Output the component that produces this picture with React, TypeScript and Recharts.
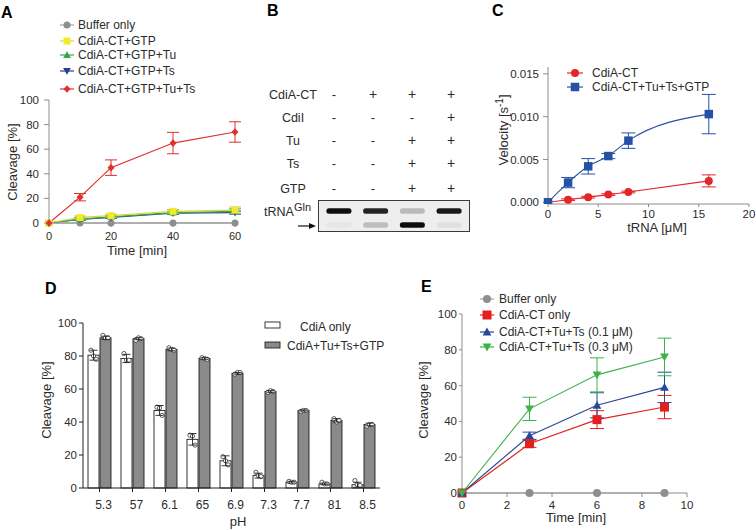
import React from 'react';
import { LineChart, Line, XAxis, YAxis, ErrorBar, BarChart, Bar, ScatterChart, Scatter } from 'recharts';

const FONT = '"Liberation Sans", Arial, Helvetica, sans-serif';
const INK = '#2b2b2b';
const AXG = '#8c8c8c';

// ---------- Panel A data ----------
const timeA = [0, 10, 20, 40, 60];
const bufferOnlyA = [0, 0, 0, 0, 0];
const ctGtpA = [0, 4.5, 6, 9.5, 10.5];
const ctGtpErrA = [0, 1.2, 1.2, 1.5, 2.5];
const ctGtpTuA = [0, 3.2, 5, 8.5, 9.5];
const ctGtpTuErrA = [0, 1, 1, 1.2, 2];
const ctGtpTsA = [0, 3, 4.5, 8, 8.5];
const ctGtpTsErrA = [0, 0.8, 0.8, 1, 1.2];
const ctGtpTuTsA = [0, 21, 45, 65, 74];
const ctGtpTuTsErrA = [0, 3, 6.3, 8.7, 8.3];
const ticksAx = [0, 20, 40, 60];
const ticksAy = [0, 20, 40, 60, 80, 100];

// ---------- Panel B data ----------
const gelRowLabels = ['CdiA-CT', 'CdiI', 'Tu', 'Ts', 'GTP'];
const gelSigns = [
  ['-', '+', '+', '+'],
  ['-', '-', '-', '+'],
  ['-', '-', '+', '+'],
  ['-', '-', '+', '+'],
  ['-', '-', '+', '+'],
];
const gelLanes = [1, 2, 3, 4];
const fullLengthBand = [1.0, 0.9, 0.22, 0.95];
const cleavedBand = [0.03, 0.2, 1.0, 0.06];

// ---------- Panel C data ----------
const tRNAConc = [0, 2, 4, 6, 8, 16];
const velCT = [0, 0.0003, 0.0006, 0.0009, 0.0012, 0.0025];
const velCTErr = [0, 0.0001, 0.0001, 0.0001, 0.0001, 0.0007];
const velTuTs = [0, 0.0023, 0.0042, 0.0054, 0.0072, 0.0103];
const velTuTsErr = [0, 0.0006, 0.0009, 0.0003, 0.0009, 0.0023];
const ticksCx = [0, 5, 10, 15, 20];
const ticksCy = [0, 0.005, 0.01, 0.015];

// ---------- Panel D data ----------
const pHLabels = ['5.3', '57', '6.1', '65', '6.9', '7.3', '7.7', '81', '8.5'];
const cdiaOnly = [80.5, 78.5, 47, 29.5, 16.5, 7.5, 3.5, 2.5, 2];
const cdiaOnlyErr = [3, 2.5, 3, 3.5, 3, 1.5, 0.5, 0.5, 1.5];
const cdiaOnlyReps = [[83.5, 80, 78], [81.5, 77.5, 77.5], [49, 48.5, 44], [32, 31.5, 26], [19, 16.5, 14], [9.5, 7.5, 7], [4, 3.5, 3.5], [3.5, 2.5, 2.5], [4.5, 2, 1.5]];
const cdiaTuTs = [91, 90.5, 84, 78.5, 69.5, 58.5, 47, 41, 38.5];
const cdiaTuTsErr = [1, 0.6, 0.8, 0.5, 0.5, 0.5, 0.3, 1, 0.8];
const cdiaTuTsReps = [[92.5, 91, 91], [89.5, 91, 90.5], [85, 84, 83.5], [79, 78.5, 78], [69, 70, 70], [58, 59, 58.5], [46.5, 47, 47], [42, 40, 41], [37.5, 38.5, 38.5]];
const ticksDy = [0, 20, 40, 60, 80, 100];

// ---------- Panel E data ----------
const timeE = [0, 3, 6, 9];
const bufferOnlyE = [0, 0, 0, 0];
const ctOnlyE = [0, 27.5, 41, 48];
const ctOnlyErrE = [0, 2, 5, 6.5];
const tuTs01E = [0, 32, 49, 59];
const tuTs01ErrE = [0, 2, 7, 8.5];
const tuTs03E = [0, 47, 66, 76];
const tuTs03ErrE = [0, 6.5, 9.5, 10.5];
const ticksEx = [0, 2, 4, 6, 8, 10];
const ticksEy = [0, 20, 40, 60, 80, 100];

// ---------- build tables ----------
const rowsA = timeA.map((t, i) => ({
  t,
  buffer: bufferOnlyA[i],
  gtp: ctGtpA[i], gtpErr: ctGtpErrA[i],
  tu: ctGtpTuA[i], tuErr: ctGtpTuErrA[i],
  ts: ctGtpTsA[i], tsErr: ctGtpTsErrA[i],
  tuts: ctGtpTuTsA[i], tutsErr: ctGtpTuTsErrA[i],
}));
const rowsC = tRNAConc.map((c, i) => ({
  c, ct: velCT[i], ctErr: velCTErr[i], full: velTuTs[i], fullErr: velTuTsErr[i],
}));
const rowsD = pHLabels.map((p, i) => ({
  p, a: cdiaOnly[i], aErr: cdiaOnlyErr[i], aReps: cdiaOnlyReps[i],
  b: cdiaTuTs[i], bErr: cdiaTuTsErr[i], bReps: cdiaTuTsReps[i],
}));
const rowsE = timeE.map((t, i) => ({
  t, buffer: bufferOnlyE[i], ct: ctOnlyE[i], ctErr: ctOnlyErrE[i],
  lo: tuTs01E[i], loErr: tuTs01ErrE[i], hi: tuTs03E[i], hiErr: tuTs03ErrE[i],
}));
const gelBands = [
  ...gelLanes.map((lane, i) => ({ lane, band: 2, intensity: fullLengthBand[i] })),
  ...gelLanes.map((lane, i) => ({ lane, band: 1, intensity: cleavedBand[i] })),
];

// ---------- styles ----------
const seriesA = [
  { key: 'buffer', name: 'Buffer only', color: '#8e8e8e', line: '#a3a3a3', shape: 'circle', size: 7 },
  { key: 'ts', name: 'CdiA-CT+GTP+Ts', color: '#27408f', line: '#27408f', shape: 'tridown', size: 7 },
  { key: 'tu', name: 'CdiA-CT+GTP+Tu', color: '#35a846', line: '#35a846', shape: 'tri', size: 7 },
  { key: 'gtp', name: 'CdiA-CT+GTP', color: '#f2ea2a', line: '#d4d83c', shape: 'square', size: 7 },
  { key: 'tuts', name: 'CdiA-CT+GTP+Tu+Ts', color: '#e0302c', line: '#e0302c', shape: 'diamond', size: 7 },
];
const legendOrderA = ['buffer', 'gtp', 'tu', 'ts', 'tuts'];
const legendYA = [25, 41, 55, 71, 89];

const seriesC = [
  { key: 'ct', name: 'CdiA-CT', color: '#e3262a', shape: 'circle', size: 8 },
  { key: 'full', name: 'CdiA-CT+Tu+Ts+GTP', color: '#2652a6', shape: 'square', size: 8.5 },
];
const seriesE = [
  { key: 'buffer', name: 'Buffer only', color: '#8e8e8e', line: '#a3a3a3', shape: 'circle', size: 8 },
  { key: 'ct', name: 'CdiA-CT only', color: '#e3201f', line: '#e3201f', shape: 'square', size: 9 },
  { key: 'lo', name: 'CdiA-CT+Tu+Ts (0.1 \u03bcM)', color: '#27479a', line: '#27479a', shape: 'tri', size: 8 },
  { key: 'hi', name: 'CdiA-CT+Tu+Ts (0.3 \u03bcM)', color: '#3db24a', line: '#3db24a', shape: 'tridown', size: 8 },
];
const legendYE = [299, 315, 332, 347];

function Marker({ shape, cx, cy, size, fill }: any) {
  const h = size / 2;
  if (cx == null || cy == null || isNaN(cx) || isNaN(cy)) return <g />;
  switch (shape) {
    case 'circle':
      return <circle cx={cx} cy={cy} r={h} fill={fill} />;
    case 'square':
      return <rect x={cx - h} y={cy - h} width={size} height={size} fill={fill} />;
    case 'tri':
      return <polygon points={`${cx},${cy - h * 1.1} ${cx + h * 1.1},${cy + h * 0.85} ${cx - h * 1.1},${cy + h * 0.85}`} fill={fill} />;
    case 'tridown':
      return <polygon points={`${cx},${cy + h * 1.1} ${cx + h * 1.1},${cy - h * 0.85} ${cx - h * 1.1},${cy - h * 0.85}`} fill={fill} />;
    case 'diamond':
      return <polygon points={`${cx},${cy - h * 1.1} ${cx + h},${cy} ${cx},${cy + h * 1.1} ${cx - h},${cy}`} fill={fill} />;
    default:
      return <circle cx={cx} cy={cy} r={h} fill={fill} />;
  }
}

const tickFont = { fontSize: 11.5, fill: INK, fontFamily: FONT };

function PanelA() {
  return (
    <div style={{ position: 'absolute', left: 0, top: 0 }}>
      <LineChart width={250} height={250} data={rowsA} margin={{ top: 100, right: 15, bottom: 7, left: 0 }}>
        <XAxis type="number" dataKey="t" domain={[0, 60]} ticks={ticksAx} interval={0} height={20}
          axisLine={{ stroke: AXG }} tickLine={{ stroke: AXG }} tickSize={4} tickMargin={5} tick={{ ...tickFont, fontSize: 11 }} />
        <YAxis type="number" domain={[0, 100]} ticks={ticksAy} interval={0} width={49}
          axisLine={{ stroke: AXG }} tickLine={{ stroke: AXG }} tickSize={5} tickMargin={5} tick={tickFont} />
        {seriesA.map((s) => (
          <Line key={s.key} dataKey={s.key} stroke={s.line} strokeWidth={1.2} isAnimationActive={false}
            dot={(p: any) => <Marker key={`${s.key}-${p.index}`} shape={s.shape} cx={p.cx} cy={p.cy} size={s.size} fill={s.color} />}
            activeDot={false}>
            {s.key !== 'buffer' && <ErrorBar dataKey={`${s.key}Err`} width={6} stroke={s.color === '#f2ea2a' ? '#c9c930' : s.color} strokeWidth={1} direction="y" />}
          </Line>
        ))}
      </LineChart>
    </div>
  );
}

function PanelB() {
  return (
    <>
      <div style={{ position: 'absolute', left: 318, top: 200, width: 150, height: 30, border: '1px solid #3a3a3a', background: '#eeeeee' }} />
      <div style={{ position: 'absolute', left: 318, top: 200 }}>
        <ScatterChart width={152} height={32} margin={{ top: 0, right: 0, bottom: 0, left: 0 }}>
          <XAxis type="number" dataKey="lane" domain={[0.43, 4.57]} hide />
          <YAxis type="number" dataKey="band" domain={[0.5, 2.786]} hide />
          <Scatter data={gelBands} isAnimationActive={false}
            shape={(p: any) => (
              <rect x={p.cx - 12.5} y={p.cy - 2.8} width={25} height={5.6} rx={2.5}
                fill="#0d0d0d" fillOpacity={p.payload.intensity} filter="url(#gelBlur)" />
            )} />
        </ScatterChart>
      </div>
    </>
  );
}

function PanelC() {
  return (
    <div style={{ position: 'absolute', left: 480, top: 0 }}>
      <LineChart width={276} height={240} data={rowsC} margin={{ top: 67, right: 7, bottom: 16, left: 0 }}>
        <XAxis type="number" dataKey="c" domain={[0, 20]} ticks={ticksCx} interval={0} height={20}
          axisLine={{ stroke: AXG }} tickLine={{ stroke: AXG }} tickSize={3} tickMargin={3} tick={tickFont} />
        <YAxis type="number" domain={[-0.0002, 0.0158]} allowDataOverflow ticks={ticksCy} interval={0} width={68}
          tickFormatter={(v: number) => v.toFixed(3)}
          axisLine={{ stroke: AXG }} tickLine={{ stroke: AXG }} tickSize={5} tickMargin={4} tick={tickFont} />
        {seriesC.map((s) => (
          <Line key={s.key} type="monotone" dataKey={s.key} stroke={s.color} strokeWidth={1.1} isAnimationActive={false}
            dot={(p: any) => <Marker key={`${s.key}-${p.index}`} shape={s.shape} cx={p.cx} cy={p.cy} size={s.size} fill={s.color} />}
            activeDot={false}>
            <ErrorBar dataKey={`${s.key}Err`} width={7} stroke={s.color} strokeWidth={1} direction="y" />
          </Line>
        ))}
      </LineChart>
    </div>
  );
}

function makeBarShape(fill: string, repsKey: string) {
  return (p: any) => {
    const { x, y, width, height, value, payload } = p;
    const v = Array.isArray(value) ? value[1] - value[0] : value;
    const base = y + height;
    const ppu = v ? height / v : 0;
    const reps: number[] = payload[repsKey] || [];
    const offs = [-2.6, 0, 2.6];
    return (
      <g>
        <rect x={x} y={y} width={width} height={height} fill={fill} stroke="#1e1e1e" strokeWidth={0.9} />
        {reps.map((r, i) => (
          <circle key={i} cx={x + width / 2 + offs[i]} cy={base - r * ppu} r={2.1} fill="#fff" stroke="#333" strokeWidth={0.8} />
        ))}
      </g>
    );
  };
}

function PanelD() {
  return (
    <div style={{ position: 'absolute', left: 0, top: 270 }}>
      <BarChart width={400} height={260} data={rowsD} margin={{ top: 53, right: 20, bottom: 12, left: 0 }}
        barCategoryGap={5} barGap={1}>
        <XAxis dataKey="p" interval={0} height={30} axisLine={{ stroke: '#222' }} tickLine={{ stroke: '#222' }}
          tickSize={4} tickMargin={8} tick={{ ...tickFont, fontSize: 12, dx: 4 } as any} />
        <YAxis type="number" domain={[0, 100]} ticks={ticksDy} interval={0} width={83}
          axisLine={{ stroke: '#222' }} tickLine={{ stroke: '#222' }} tickSize={4} tickMargin={2} tick={tickFont} />
        <Bar dataKey="a" isAnimationActive={false} fill="#ffffff" shape={makeBarShape('#ffffff', 'aReps')}>
          <ErrorBar dataKey="aErr" width={4} stroke="#222" strokeWidth={0.9} direction="y" />
        </Bar>
        <Bar dataKey="b" isAnimationActive={false} fill="#8a8a8a" shape={makeBarShape('#8a8a8a', 'bReps')}>
          <ErrorBar dataKey="bErr" width={4} stroke="#222" strokeWidth={0.9} direction="y" />
        </Bar>
      </BarChart>
    </div>
  );
}

function PanelE() {
  return (
    <div style={{ position: 'absolute', left: 420, top: 270 }}>
      <LineChart width={336} height={260} data={rowsE} margin={{ top: 44, right: 69, bottom: 12, left: 0 }}>
        <XAxis type="number" dataKey="t" domain={[0, 10]} ticks={ticksEx} interval={0} height={25}
          axisLine={{ stroke: AXG }} tickLine={{ stroke: AXG }} tickSize={4} tickMargin={4} tick={tickFont} />
        <YAxis type="number" domain={[0, 100]} ticks={ticksEy} interval={0} width={42}
          axisLine={{ stroke: AXG }} tickLine={{ stroke: AXG }} tickSize={3} tickMargin={2} tick={tickFont} />
        {seriesE.map((s) => (
          <Line key={s.key} dataKey={s.key} stroke={s.line} strokeWidth={1.1} isAnimationActive={false}
            dot={(p: any) => <Marker key={`${s.key}-${p.index}`} shape={s.shape} cx={p.cx} cy={p.cy} size={s.size} fill={s.color} />}
            activeDot={false}>
            {s.key !== 'buffer' && <ErrorBar dataKey={`${s.key}Err`} width={7} stroke={s.color} strokeWidth={1} direction="y" />}
          </Line>
        ))}
      </LineChart>
    </div>
  );
}

function LegendRow({ x, y, s, lineLen = 7, textX }: any) {
  return (
    <g>
      <line x1={x - lineLen} x2={x + lineLen} y1={y} y2={y} stroke={s.line || s.color} strokeWidth={1.2} />
      <Marker shape={s.shape} cx={x} cy={y} size={s.size} fill={s.color} />
      <text x={textX} y={y} dy="0.36em" fontSize={12} fill={INK}>{s.name}</text>
    </g>
  );
}

function Overlay() {
  const laneX = [334, 373, 412, 451];
  const rowY = [94, 117, 140, 163, 188];
  return (
    <svg width={756} height={530} style={{ position: 'absolute', left: 0, top: 0, pointerEvents: 'none' }} fontFamily={FONT}>
      {/* panel letters */}
      <text x={1} y={18} fontSize={16} fontWeight="bold" fill="#000">A</text>
      <text x={267} y={16} fontSize={16} fontWeight="bold" fill="#000">B</text>
      <text x={492} y={16} fontSize={16} fontWeight="bold" fill="#000">C</text>
      <text x={45} y={294} fontSize={16} fontWeight="bold" fill="#000">D</text>
      <text x={421} y={292} fontSize={16} fontWeight="bold" fill="#000">E</text>

      {/* Panel A legend + titles */}
      {legendOrderA.map((k, i) => {
        const s = seriesA.find((q) => q.key === k);
        return <LegendRow key={k} x={67} y={legendYA[i]} s={s} textX={78} />;
      })}
      <text x={137} y={255} fontSize={13} fill={INK} textAnchor="middle">Time [min]</text>
      <text transform="translate(17,162) rotate(-90)" fontSize={13} fill={INK} textAnchor="middle">Cleavage [%]</text>

      {/* Panel B table */}
      {gelRowLabels.map((lab, r) => (
        <g key={lab}>
          <text x={293} y={rowY[r]} dy="0.36em" fontSize={12.5} fill={INK} textAnchor="middle">{lab}</text>
          {gelSigns[r].map((sg, c) => (
            <text key={c} x={laneX[c]} y={rowY[r]} dy="0.36em" fontSize={sg === '+' ? 14 : 13} fill={INK} textAnchor="middle">{sg}</text>
          ))}
        </g>
      ))}
      <text x={264} y={216} fontSize={12.5} fill={INK}>
        <tspan>tRNA</tspan><tspan dy={-5} fontSize={11}>Gln</tspan>
      </text>
      <line x1={298} x2={311} y1={226} y2={226} stroke="#111" strokeWidth={1.2} />
      <polygon points="316,226 309,223 309,229" fill="#111" />

      {/* Panel C legend + titles */}
      {seriesC.map((s, i) => (
        <LegendRow key={s.key} x={575} y={[73, 87][i]} s={s} lineLen={8} textX={592} />
      ))}
      <text x={657} y={232} fontSize={13} fill={INK} textAnchor="middle">tRNA [{'\u03bc'}M]</text>
      <text transform="translate(508,130) rotate(-90)" fontSize={13} fill={INK} textAnchor="middle">
        <tspan>Velocity  [s</tspan><tspan dy={-5} fontSize={10}>-1</tspan><tspan dy={5}>]</tspan>
      </text>

      {/* Panel D legend + titles */}
      <rect x={265} y={322} width={15} height={6} fill="#fff" stroke="#222" strokeWidth={0.9} />
      <text x={300} y={327} dy="0.36em" fontSize={12} fill={INK}>CdiA only</text>
      <rect x={265} y={342} width={15} height={6} fill="#8a8a8a" stroke="#222" strokeWidth={0.9} />
      <text x={287} y={346} dy="0.36em" fontSize={12} fill={INK}>CdiA+Tu+Ts+GTP</text>
      <text x={238} y={526} fontSize={13} fill={INK} textAnchor="middle">pH</text>
      <text transform="translate(51,400) rotate(-90)" fontSize={13} fill={INK} textAnchor="middle">Cleavage [%]</text>

      {/* Panel E legend + titles */}
      {seriesE.map((s, i) => (
        <LegendRow key={s.key} x={487} y={legendYE[i]} s={s} textX={499} />
      ))}
      <text x={576} y={522} fontSize={13} fill={INK} textAnchor="middle">Time [min]</text>
      <text transform="translate(428,400) rotate(-90)" fontSize={13} fill={INK} textAnchor="middle">Cleavage [%]</text>
    </svg>
  );
}

export default function App() {
  return (
    <div style={{ position: 'absolute', left: 0, top: 0, width: 756, height: 530, background: '#fff', fontFamily: FONT, overflow: 'hidden' }}>
      <svg width={0} height={0} style={{ position: 'absolute' }}>
        <defs>
          <filter id="gelBlur" x="-30%" y="-80%" width="160%" height="260%">
            <feGaussianBlur stdDeviation="0.7" />
          </filter>
        </defs>
      </svg>
      <PanelA />
      <PanelB />
      <PanelC />
      <PanelD />
      <PanelE />
      <Overlay />
    </div>
  );
}
